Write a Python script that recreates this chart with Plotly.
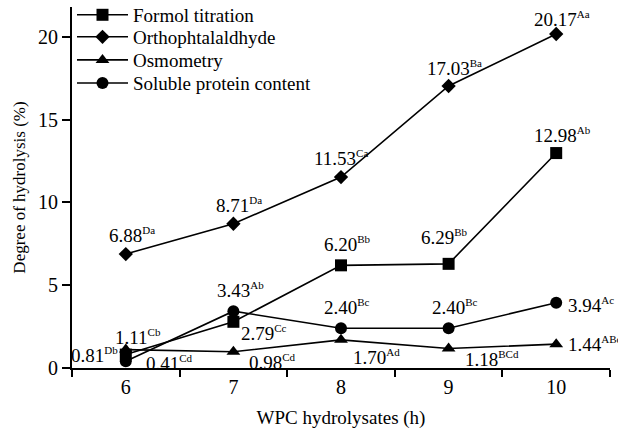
import plotly.graph_objects as go

hours = ["6", "7", "8", "9", "10"]
formol = [0.81, 2.79, 6.20, 6.29, 12.98]
opa = [6.88, 8.71, 11.53, 17.03, 20.17]
osmo = [1.11, 0.98, 1.70, 1.18, 1.44]
soluble = [0.41, 3.43, 2.40, 2.40, 3.94]

formol_sup = ["Db", "Cc", "Bb", "Bb", "Ab"]
opa_sup = ["Da", "Da", "Ca", "Ba", "Aa"]
osmo_sup = ["Cb", "Cd", "Ad", "BCd", "ABc"]
soluble_sup = ["Cd", "Ab", "Bc", "Bc", "Ac"]

FONT = "Liberation Serif, Times New Roman, serif"

fig = go.Figure()
series = [
    ("Formol titration", formol, "square", 12, "legend", 0.978),
    ("Orthophtalaldhyde", opa, "diamond", 11, "legend2", 0.917),
    ("Osmometry", osmo, "triangle-up", 12, "legend3", 0.853),
    ("Soluble protein content", soluble, "circle", 12, "legend4", 0.789),
]
legends = {}
for name, vals, sym, sz, leg, ly in series:
    fig.add_trace(go.Scatter(
        x=hours, y=vals, name=name, mode="lines+markers",
        line=dict(color="black", width=1.6),
        marker=dict(symbol=sym, size=sz, color="black"),
        legend=leg,
    ))
    legends[leg] = dict(x=0.0, y=ly, xanchor="left", yanchor="middle",
                        bgcolor="rgba(0,0,0,0)", font=dict(family=FONT, size=19),
                        itemwidth=51)

# label placement: (xanchor, yanchor, xshift, yshift)
place = {
    "formol": [("right", "middle", -6, 0), ("left", "top", 6, 2), ("center", "bottom", 6, 8),
               ("center", "bottom", -4, 14), ("center", "bottom", 6, 5)],
    "opa": [("center", "bottom", 6, 6), ("center", "bottom", 6, 6), ("center", "bottom", 0, 6),
            ("center", "bottom", 6, 5), ("center", "bottom", 6, 2)],
    "osmo": [("center", "bottom", 12, 0), ("left", "top", 14, 3), ("left", "top", 10, -4),
             ("left", "top", 14, 2), ("left", "middle", 10, 0)],
    "soluble": [("left", "middle", 18, -2), ("center", "bottom", 7, 8), ("center", "bottom", 6, 8),
                ("center", "bottom", 6, 8), ("left", "middle", 10, -2)],
}
groups = [("formol", formol, formol_sup), ("opa", opa, opa_sup),
          ("osmo", osmo, osmo_sup), ("soluble", soluble, soluble_sup)]
for key, vals, sups in groups:
    for i, (v, s) in enumerate(zip(vals, sups)):
        xa, ya, xs, ys = place[key][i]
        fig.add_annotation(
            x=i, y=v, xref="x", yref="y",
            text=f"{v:.2f}<sup><span style='font-size:11px'>{s}</span></sup>",
            showarrow=False,
            xanchor=xa, yanchor=ya, xshift=xs, yshift=ys,
            font=dict(family=FONT, size=19, color="black"),
        )

fig.update_layout(
    width=618, height=432,
    margin=dict(l=72, r=8, t=7, b=64, autoexpand=False),
    paper_bgcolor="white", plot_bgcolor="white",
    font=dict(family=FONT, size=18, color="black"),
    showlegend=True,
    xaxis=dict(
        type="category", range=[-0.5, 4.5], tickson="boundaries",
        ticks="outside", ticklen=7, tickwidth=1.5, tickcolor="black",
        showline=True, linecolor="black", linewidth=2, showgrid=False,
        zeroline=False, automargin=False,
        title=dict(text="WPC hydrolysates (h)", font=dict(family=FONT, size=19), standoff=14),
        tickfont=dict(family=FONT, size=20),
    ),
    yaxis=dict(
        range=[0, 21.8], tickvals=[0, 5, 10, 15, 20],
        ticks="outside", ticklen=8, tickwidth=1.5, tickcolor="black",
        showline=True, linecolor="black", linewidth=2, showgrid=False,
        zeroline=False, automargin=False,
        title=dict(text="Degree of hydrolysis (%)", font=dict(family=FONT, size=17), standoff=8),
        tickfont=dict(family=FONT, size=20),
    ),
    **legends,
)

fig.write_html("out.html", config={"displayModeBar": False},
               post_script="document.body.style.margin='0';")
